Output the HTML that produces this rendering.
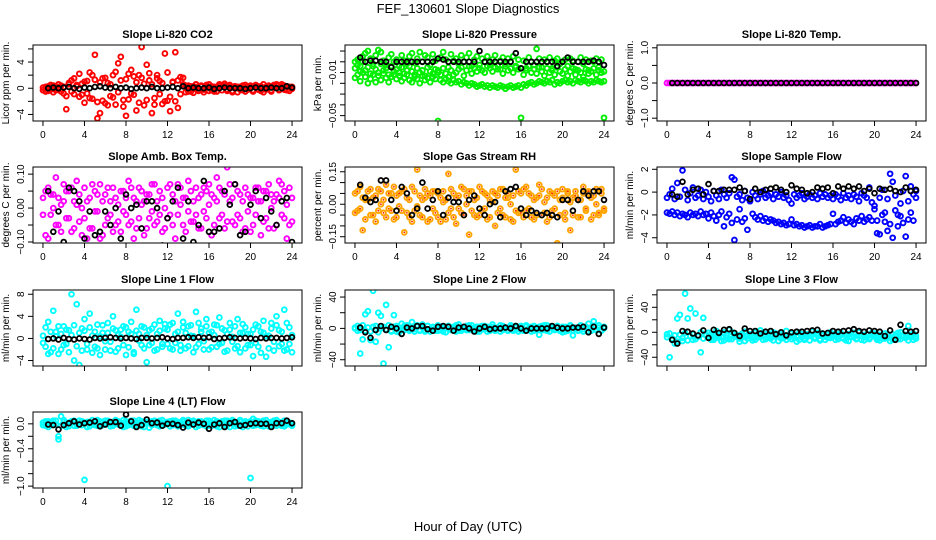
<!DOCTYPE html>
<html><head><meta charset="utf-8">
<style>
html,body{margin:0;padding:0;background:#fff;}
svg{display:block;font-family:"Liberation Sans",Arial,sans-serif;}
</style></head>
<body>
<svg id="chart" width="936" height="540" viewBox="0 0 936 540">
<text x="468" y="13" text-anchor="middle" font-size="13">FEF_130601  Slope Diagnostics</text>
<text x="468" y="531" text-anchor="middle" font-size="13">Hour of Day (UTC)</text>
</svg>
<script>
// ---- data arrays (colored series sampled every 0.25 h from 0; black series every 0.5 h from 0.5) ----
const xTicks = [0,4,8,12,16,20,24];

const co2A = [-0.3,0.2,-0.4,0.5,-0.6,0.3,-0.2,0.4,-0.8,-3.2,0.6,-0.5,1.5,0.3,2.2,-1.0,
-2.2,1.1,-1.5,2.0,5.1,-4.6,-3.8,1.5,-2.3,0.8,-1.2,2.0,-2.5,3.8,4.8,-1.8,
-4.2,2.2,-0.8,1.8,-3.4,2.0,6.3,-2.6,3.6,1.2,-3.8,-1.5,2.0,1.1,-2.4,5.3,
-1.9,-3.5,1.0,5.5,-3.0,1.7,0.6,-0.6,0.4,-0.5,0.3,0.2,-0.4,0.3,-0.2,0.5,
0.6,-0.3,0.2,-0.5,0.4,0.3,0.7,-0.4,0.2,-0.6,0.3,0.2,-0.2,0.4,-0.5,0.3,
0.2,-0.3,0.5,-0.2,0.3,-0.6,0.2,0.4,-0.3,0.5,0.6,-0.2,0.3,0.4,-0.3,0.2,-0.1];
const co2B = [0.1,-0.5,0.3,-0.2,0.4,-0.3,0.6,-0.5,0.2,-1.2,0.8,1.2,-0.9,0.5,-1.3,0.7,
1.0,-0.8,2.4,-1.6,1.3,-2.1,0.9,-1.9,1.6,-2.6,0.6,-1.4,2.5,-0.6,1.2,-2.8,
1.4,-1.7,2.8,-1.0,0.9,-2.2,1.6,0.7,-1.8,2.3,0.6,-2.5,1.5,-0.9,0.8,-2.0,
2.4,-1.3,0.9,-2.0,1.2,-0.9,1.6,0.4,-0.5,0.3,-0.7,0.6,-0.3,0.4,-0.6,0.2,
-0.4,0.3,-0.5,0.2,0.6,-0.3,0.4,-0.2,0.5,-0.4,0.3,-0.6,0.2,-0.3,0.5,-0.2,
0.4,-0.5,0.2,0.3,-0.4,0.6,-0.2,0.3,-0.5,0.2,0.4,-0.3,0.6,-0.2,0.3,-0.4,0.2];
const co2K = [0,0.1,0,0.1,0.2,0,-0.1,0.1,0,0.2,0.3,0.1,0,0.2,0,0.1,-0.1,0,0.1,0,0.2,0,0,0.1,0.2,0,0.3,0,0.1,0,0,0.1,-0.1,0,0.1,0,0,0,-0.1,0,0.1,0,0,0.1,0,0,0.3,0.1];

const presA = [0.000,0.002,-0.004,0.005,0.008,0.010,0.003,-0.002,0.006,0.011,0.009,0.001,-0.003,0.004,0.007,0.000,
0.002,-0.004,0.006,0.001,-0.002,0.005,0.008,-0.001,0.003,0.009,0.000,0.006,0.004,-0.003,0.007,0.001,
-0.008,0.004,0.009,0.002,-0.005,0.007,0.001,0.003,-0.002,0.006,0.000,0.004,0.008,-0.004,0.002,0.005,
-0.006,0.003,0.000,0.005,-0.003,0.002,0.006,-0.007,0.001,0.004,-0.002,0.003,0.000,0.005,-0.004,0.002,
-0.052,0.001,-0.006,0.004,0.000,-0.003,0.012,0.003,-0.005,0.002,0.000,0.004,-0.006,0.001,0.003,-0.002,
0.000,0.002,-0.004,0.003,0.001,-0.007,0.000,0.004,-0.002,0.002,-0.008,0.001,0.000,0.003,-0.005,0.002,-0.052];
const presB = [-0.015,-0.012,-0.018,-0.010,-0.014,-0.020,-0.016,-0.012,-0.019,-0.013,-0.017,-0.011,-0.015,-0.019,-0.014,-0.012,
-0.016,-0.013,-0.018,-0.015,-0.012,-0.017,-0.019,-0.014,-0.016,-0.020,-0.013,-0.017,-0.015,-0.019,-0.014,-0.016,
-0.055,-0.017,-0.019,-0.016,-0.018,-0.020,-0.017,-0.019,-0.018,-0.021,-0.019,-0.020,-0.022,-0.020,-0.021,-0.023,
-0.022,-0.021,-0.023,-0.022,-0.024,-0.022,-0.023,-0.024,-0.022,-0.023,-0.025,-0.023,-0.022,-0.024,-0.023,-0.022,
-0.024,-0.021,-0.022,-0.020,-0.019,-0.021,-0.020,-0.018,-0.019,-0.020,-0.018,-0.019,-0.017,-0.021,-0.019,-0.020,
-0.018,-0.017,-0.019,-0.018,-0.020,-0.017,-0.018,-0.019,-0.017,-0.018,-0.020,-0.018,-0.019,-0.017,-0.018,-0.019,-0.018];
const presC = [-0.006,-0.003,-0.009,0.000,-0.008,-0.005,-0.011,-0.004,-0.007,-0.010,-0.002,-0.008,-0.006,-0.012,-0.004,-0.009,
-0.007,-0.010,-0.005,-0.011,-0.008,-0.004,-0.009,-0.012,-0.006,-0.010,-0.008,-0.013,-0.005,-0.009,-0.011,-0.007,
-0.010,-0.012,-0.006,-0.011,-0.014,-0.008,-0.012,-0.010,-0.007,-0.005,-0.013,-0.008,-0.004,-0.011,-0.006,-0.009,
-0.003,-0.008,-0.010,-0.004,-0.006,-0.009,-0.005,-0.003,-0.007,-0.011,-0.004,-0.008,-0.006,-0.010,-0.005,-0.007,
-0.006,-0.012,-0.008,-0.004,-0.010,-0.007,-0.011,-0.005,-0.009,-0.013,-0.006,-0.010,-0.008,-0.012,-0.005,-0.009,
-0.011,-0.007,-0.013,-0.009,-0.006,-0.012,-0.008,-0.010,-0.014,-0.007,-0.011,-0.009,-0.006,-0.012,-0.008,-0.010,-0.009];
const presK = [0.004,0.000,0.001,0.001,0.000,0.000,-0.005,0.000,0.000,0.000,0.000,0.000,0.000,0.000,0.000,0.003,0.002,0.000,0.000,0.000,0.000,0.000,0.000,0.010,0.000,0.000,0.000,0.000,0.000,0.000,0.008,-0.006,0.000,0.000,0.000,0.000,0.000,0.000,-0.004,0.000,0.004,0.000,0.000,0.000,0.000,0.001,0.000,-0.003];

const tempA = [0,0,0,0,0,0,0,0,0,0,0,0,0,0,0,0,0,0,0,0,0,0,0,0,0,0,0,0,0,0,0,0,0,0,0,0,0,0,0,0,0,0,0,0,0,0,0,0,0,0,0,0,0,0,0,0,0,0,0,0,0,0,0,0,0,0,0,0,0,0,0,0,0,0,0,0,0,0,0,0,0,0,0,0,0,0,0,0,0,0,0,0,0,0,0,0,0];
const tempK = [0,0,0,0,0,0,0,0,0,0,0,0,0,0,0,0,0,0,0,0,0,0,0,0,0,0,0,0,0,0,0,0,0,0,0,0,0,0,0,0,0,0,0,0,0,0,0,0];

const ambA = [0.03,-0.08,0.06,-0.02,0.04,0.09,-0.05,0.01,0.07,-0.03,0.05,-0.07,0.02,0.08,-0.04,0.00,
0.06,-0.09,0.03,-0.06,0.05,-0.01,0.07,-0.08,0.04,-0.03,0.02,0.06,-0.05,0.01,-0.07,0.05,
-0.02,0.08,-0.04,0.03,-0.06,0.06,0.01,-0.08,0.04,-0.03,0.07,-0.05,0.02,0.05,-0.07,0.00,
0.06,-0.02,0.04,-0.09,0.07,0.01,-0.05,0.03,0.08,-0.04,0.02,0.06,-0.06,0.04,-0.01,0.05,
0.07,-0.08,0.03,0.09,-0.03,0.05,-0.06,0.12,0.02,-0.04,0.07,-0.02,0.04,-0.07,0.06,-0.01,
0.03,-0.05,0.06,0.02,-0.08,0.05,-0.03,0.07,0.00,-0.06,0.04,0.08,-0.02,0.05,-0.09,0.06,-0.04];
const ambB = [-0.02,0.05,-0.09,0.04,0.00,-0.05,0.03,-0.07,0.02,0.05,-0.03,0.06,-0.06,0.01,0.04,-0.08,
-0.03,0.02,-0.06,0.07,-0.01,0.04,-0.09,0.02,-0.05,0.06,-0.02,-0.07,0.03,-0.04,0.05,-0.01,
0.03,-0.05,0.06,-0.09,0.02,-0.03,0.05,0.02,-0.06,0.04,-0.01,0.07,-0.04,-0.02,0.03,-0.06,
-0.03,0.07,-0.05,0.02,-0.02,0.06,0.03,-0.07,-0.01,0.05,-0.04,-0.02,0.03,-0.06,0.06,-0.03,
0.01,0.04,-0.05,0.02,0.06,-0.02,0.04,-0.04,0.07,0.03,-0.05,0.05,-0.03,0.02,-0.06,0.04,
-0.07,0.03,-0.02,0.06,0.02,-0.04,0.05,-0.06,0.04,0.02,-0.05,0.03,0.07,-0.03,0.01,-0.05,0.03];
const ambK = [0.05,-0.07,-0.01,-0.1,0.06,0.05,0.02,-0.09,-0.01,-0.08,-0.07,-0.01,-0.05,0.00,-0.09,0.04,0.00,0.01,-0.06,0.02,0.02,0.00,-0.11,-0.03,0.02,0.06,-0.09,0.02,-0.1,-0.05,0.08,-0.07,-0.07,-0.06,0.05,0.01,0.07,-0.08,-0.07,0.01,0.05,-0.03,0.03,-0.01,-0.05,0.02,0.03,-0.1];

const rhA = [0.05,-0.03,0.08,-0.12,0.02,0.06,-0.05,0.03,-0.08,0.07,0.00,-0.04,0.09,-0.02,0.05,-0.07,
0.04,-0.01,0.06,-0.13,0.03,-0.06,0.08,-0.03,0.16,-0.05,0.02,0.07,-0.08,0.04,-0.02,0.06,
-0.06,0.03,0.01,-0.07,0.14,-0.02,0.05,-0.09,0.04,-0.04,0.07,0.00,-0.14,0.06,-0.05,0.03,
0.08,-0.03,0.05,-0.07,0.02,0.06,-0.10,0.04,-0.02,0.07,-0.06,0.03,0.00,-0.08,0.16,-0.04,
0.05,-0.06,0.08,-0.02,0.04,-0.07,0.03,0.09,-0.05,0.01,-0.08,0.06,-0.03,0.04,-0.18,0.02,
0.07,-0.04,0.05,-0.12,0.03,0.06,-0.06,0.02,0.08,-0.03,0.05,-0.07,0.04,0.00,-0.05,0.07,-0.03];
const rhB = [-0.04,0.06,-0.02,0.03,-0.07,0.02,0.07,-0.05,0.04,-0.03,0.06,0.02,-0.06,0.05,-0.03,0.08,
-0.06,0.05,-0.03,0.07,-0.04,0.02,-0.08,0.06,-0.01,0.04,-0.06,0.03,0.05,-0.07,0.06,-0.04,
0.05,-0.08,0.06,0.02,-0.04,0.07,-0.06,0.03,-0.02,0.08,-0.05,0.04,0.06,-0.03,0.02,-0.06,
-0.05,0.06,-0.02,0.04,-0.06,0.01,0.05,-0.04,0.07,-0.05,0.03,0.05,-0.07,0.04,-0.03,0.06,
-0.04,0.07,-0.03,0.05,-0.06,0.02,-0.05,0.04,0.07,-0.04,0.03,-0.06,0.05,-0.02,0.06,-0.05,
0.03,-0.07,0.06,0.01,-0.05,0.04,0.02,-0.06,0.05,-0.02,0.06,0.03,-0.05,0.07,-0.04,0.05,-0.02];
const rhK = [0.09,0.03,0.01,0.02,0.11,0.11,0.02,-0.03,0.08,0.05,-0.05,-0.02,0.10,-0.02,0.02,0.06,-0.05,0.03,0.01,0.01,-0.05,0.02,0.04,-0.02,-0.05,0.00,0.01,-0.06,0.06,0.07,0.08,-0.02,-0.05,-0.03,-0.04,-0.05,-0.04,-0.05,-0.06,0.02,0.02,-0.03,0.02,0.06,0.04,0.06,0.06,0.02];

const flowA = [-0.5,-0.2,0.3,-0.6,0.8,-0.4,1.9,0.2,-0.7,-0.1,0.4,-0.5,-0.3,0.2,-0.6,0.0,
-0.4,-0.8,0.1,-0.3,-0.6,0.2,-0.2,-0.5,-0.1,1.3,1.1,-0.4,-0.2,-0.7,0.1,-0.5,
-0.8,0.0,-0.3,-0.6,-0.2,0.1,-0.5,-0.3,-0.1,-0.6,-0.2,-0.4,0.0,-0.5,-0.3,-0.7,
-1.0,-0.2,-0.5,-0.3,-0.1,-0.6,-0.4,-0.2,-0.5,-0.3,-0.6,-0.1,-0.4,-0.2,-0.5,-0.3,
-0.6,-0.2,-0.4,-0.7,-0.1,-0.5,-0.3,-0.6,-0.2,-0.4,-0.8,-0.1,-0.3,-0.5,0.4,-0.9,
-1.5,-3.6,-0.5,0.2,-1.8,-0.6,1.6,0.9,-0.3,-2.0,-1.0,0.1,1.4,-0.8,0.5,-0.2,0.1];
const flowB = [-1.8,-1.9,-1.7,-2.0,-1.8,-2.1,-1.9,-2.0,-2.2,-1.8,-2.0,-1.9,-2.1,-1.7,-2.0,-1.9,
-2.3,-1.8,-2.1,-2.5,-2.0,-1.7,-3.0,-2.2,-1.9,-2.7,-4.2,-2.4,-1.5,-2.6,-2.3,-3.3,
-0.7,-1.9,-2.2,-2.4,-2.1,-2.5,-2.3,-2.6,-2.4,-2.5,-2.7,-2.6,-2.8,-2.7,-2.9,-2.8,
-2.4,-2.9,-2.8,-3.0,-2.9,-3.1,-3.0,-2.9,-3.1,-3.0,-3.0,-2.8,-3.1,-3.0,-2.9,-2.8,
-1.9,-2.8,-2.6,-2.5,-2.2,-2.7,-2.4,-2.6,-2.8,-2.3,-2.5,-2.1,-2.6,-2.4,-2.2,-2.5,
-1.2,-2.5,-3.7,-2.0,-2.6,-3.4,-2.8,-4.0,-1.6,-3.0,-2.1,-2.7,-3.9,-2.4,-1.8,-2.5,-0.5];
const flowK = [-0.2,-0.4,0.9,-0.2,0.2,0.3,-0.2,0.7,0.1,0.1,0.2,0.2,0.2,0.4,0.1,-0.6,0.3,0.0,0.2,0.3,0.4,0.2,0.0,0.6,0.3,0.2,-0.1,0.0,0.4,0.3,0.4,-0.1,0.5,0.3,0.5,0.3,0.5,0.1,0.3,-0.1,0.3,0.2,0.3,0.1,0.0,0.4,0.1,0.2];

const line1A = [0.5,-1.5,3.0,-2.5,5.0,1.2,-2.8,0.8,2.2,-1.0,1.5,8.0,-4.0,6.2,-4.8,1.8,
3.5,-2.0,4.5,0.5,-1.5,2.5,-3.0,1.0,-0.5,2.8,-2.2,4.0,1.5,-1.8,0.3,2.2,
-3.0,1.2,3.0,-2.5,5.2,0.8,-1.2,2.0,-4.3,1.5,-0.8,2.5,-2.0,3.2,-1.5,1.8,
-1.0,2.5,-2.0,0.8,4.5,-1.2,3.0,-1.8,2.2,0.5,-2.5,4.8,-1.0,1.8,-0.5,3.5,
-2.0,1.2,2.5,-1.5,3.8,-0.8,1.5,-2.2,2.8,0.3,-1.8,3.5,-2.5,1.0,2.0,-1.2,
0.8,-3.2,2.5,-1.5,1.2,3.2,-3.3,0.5,2.8,-2.2,4.0,1.5,-1.0,5.2,-2.0,2.0,-2.5];
const line1B = [-0.8,2.0,-2.8,1.2,-1.8,0.4,2.2,-2.0,-1.2,1.6,-2.5,0.6,2.4,-1.4,1.0,-2.2,
1.4,-1.0,2.0,-2.6,1.2,-1.8,0.4,2.4,-2.0,1.0,-0.6,1.8,-2.4,0.6,1.6,-1.2,
2.0,-1.6,0.8,-2.8,1.4,-0.4,2.2,-1.8,0.6,-1.2,1.8,-2.2,0.8,1.4,-1.0,2.6,
1.6,-1.8,2.8,-0.8,1.2,-2.2,2.0,1.0,-1.4,2.4,0.4,-1.6,2.8,1.2,-2.0,2.2,
1.0,-1.6,0.6,2.4,-1.0,1.8,-2.4,0.8,1.6,-0.6,2.2,-1.4,1.0,2.6,-1.8,0.8,
-1.2,1.6,-0.8,2.2,-2.6,1.0,0.4,-1.8,1.8,-0.6,2.4,-1.4,1.2,-2.2,2.8,-1.0,0.6];
const line1K = [-0.1,0,-0.2,0.1,-0.1,-0.2,0,-0.1,-0.2,0.1,0,0.1,0.2,0.1,0,0.1,0,-0.1,0.1,0.1,0,0.1,0.2,0,-0.1,0.1,0.1,0.2,0.1,0.2,0.1,0.2,-0.1,0,0.1,0.2,0.1,0,0.1,0,-0.1,0.1,0,0.1,0.1,0,0.1,0.2];

const line2A = [1,-3,-32,-14,18,22,-15,48,-17,20,16,-45,30,-24,-4,17,
3,-5,6,-2,4,-1,8,-4,2,-3,5,-2,3,-4,1,-3,
4,-2,1,-5,3,-1,2,-4,5,-3,1,-2,4,0,-3,2,
-4,3,-1,2,-3,5,-2,1,-4,3,0,-2,4,-3,1,-1,
3,-2,4,-1,2,-3,1,-8,3,-2,4,-4,2,-1,3,-3,
-5,2,-3,4,-9,1,-2,3,-4,2,6,-3,9,-1,4,-2,0];
const line2B = [0,3,-2,4,-3,1,-4,2,3,-5,0,2,-1,4,-3,2,
-4,1,-2,3,0,-3,2,-1,4,-2,1,-4,3,-1,2,0,
-3,2,-4,1,3,-2,0,4,-3,1,-1,3,-2,4,0,-4,
2,-1,3,-4,1,2,-3,0,4,-2,1,-3,2,-1,3,-4,
1,-3,2,0,-4,3,-1,2,-2,4,-3,1,0,-2,3,-1,
2,-4,1,3,-2,0,-3,4,-1,2,-4,1,3,-2,1,-3,2];
const line2K = [1,-5,-12,-2,3,-2,2,0,-7,1,0,3,3,-1,-3,2,3,2,-3,1,2,0,-4,0,2,-1,0,0,1,0,3,0,-3,0,0,0,0,3,1,0,0,1,1,2,-5,2,-7,1];

const line3A = [-3,-40,-10,-18,22,28,-14,62,22,38,-12,30,-60,-32,23,-5,
-8,-3,-12,2,-6,-14,0,-9,4,-11,-2,-7,-15,-4,1,-10,
-6,-13,-1,-8,3,-12,-5,-2,-10,0,-7,-14,-3,-9,2,-6,
-11,-4,-15,-1,-8,-12,-3,-6,1,-10,-5,-13,-2,-7,-9,0,
-4,-12,-7,-1,-10,-5,-14,-2,-8,-11,0,-6,-13,-3,-9,-1,
-7,-12,-4,-10,-2,-8,-14,-3,-6,-11,0,-5,-9,10,-4,-12,-6];
const line3B = [-8,-2,-12,-5,-15,-4,-9,-1,-13,-6,-3,-11,-7,0,-10,-4,
-1,-12,-6,-9,-3,-8,-13,-5,-11,0,-7,-4,-10,-2,-14,-6,
-3,-9,-12,-4,-7,-1,-11,-8,-5,-13,-2,-6,-10,-4,-12,-8,
-2,-9,-6,-12,-3,-10,-7,-13,-4,-8,-1,-11,-5,-12,-3,-9,
-7,-2,-11,-5,-9,-13,-3,-7,-1,-10,-6,-12,-4,-8,-11,-5,
-2,-9,-13,-6,-10,-3,-8,-12,-5,-1,-11,-7,-4,-13,-8,-2,-10];
const line3K = [-12,-18,2,1,-2,-5,3,-9,4,-1,4,5,-1,-6,6,2,2,-2,1,2,-3,0,-5,0,1,1,2,3,4,-2,-1,2,1,2,3,5,2,1,3,2,1,-6,3,-12,12,2,1,2];

const line4A = [0.02,-0.03,0.04,-0.02,0.05,-0.01,-0.25,0.12,0.03,-0.05,0.02,0.04,-0.03,0.01,0.05,-0.02,
-0.90,0.03,-0.04,0.06,0.01,-0.03,0.04,-0.02,0.05,0.00,-0.04,0.03,0.06,-0.01,0.02,-0.05,
0.04,-0.02,0.05,-0.03,0.01,0.06,-0.04,0.02,0.03,-0.06,0.04,0.00,-0.02,0.05,-0.03,0.02,
-1.00,0.04,-0.02,0.05,-0.04,0.01,0.03,-0.03,0.06,-0.01,0.02,-0.05,0.04,0.00,-0.02,0.05,
-0.03,0.02,0.06,-0.04,0.01,0.04,-0.02,0.05,-0.05,0.03,0.00,-0.03,0.06,-0.01,0.02,-0.04,
-0.87,0.08,-0.02,0.04,-0.03,0.05,0.01,-0.04,0.03,-0.02,0.06,0.00,-0.03,0.05,-0.01,0.02,-0.03];
const line4B = [-0.02,0.04,-0.05,0.03,-0.01,0.05,-0.20,-0.03,0.06,0.01,-0.04,0.02,0.05,-0.03,0.00,0.04,
0.02,-0.05,0.03,0.00,-0.02,0.06,-0.04,0.03,-0.01,0.05,0.02,-0.03,0.00,0.04,-0.02,0.06,
-0.04,0.03,0.00,0.05,-0.03,0.02,0.04,-0.05,0.01,0.03,-0.02,0.05,0.02,-0.04,0.06,-0.01,
0.03,-0.04,0.05,0.00,0.03,-0.02,0.06,0.01,-0.04,0.03,0.05,0.02,-0.03,0.04,0.01,-0.04,
0.05,-0.03,0.00,0.04,-0.05,0.02,0.05,-0.02,0.03,0.06,-0.04,0.01,0.03,-0.05,0.04,0.02,
0.04,-0.03,0.05,-0.01,0.03,-0.04,0.06,0.02,-0.02,0.05,-0.03,0.03,0.00,-0.04,0.05,0.02,0.00];
const line4K = [-0.01,-0.02,-0.09,-0.02,0.01,0.04,-0.01,0.01,0.02,0.04,-0.04,-0.01,0.03,0.03,-0.03,0.15,0.04,-0.05,-0.02,0.07,0.01,0.02,-0.03,0.00,0.00,-0.02,-0.06,0.02,-0.01,0.02,0.00,-0.08,-0.01,0.01,-0.05,0.01,0.03,-0.03,-0.02,0.00,0.01,0.00,0.00,-0.05,0.01,0.01,0.05,0.01];

// ---- panel layout (not data) ----
const NS = 'http://www.w3.org/2000/svg';
const svg = document.getElementById('chart');
const colX = [33, 345, 657], colW = 269;
const rowY = [45, 167, 290, 412], rowH = 76;

const panels = [
 {name:'co2', title:'Slope Li-820 CO2', ylab:'Licor ppm per min.', c:0, r:0, ymin:-5, ymax:6.6, ticks:[-4,-2,0,2,4,6], labels:[-4,0,4], fmt:v=>String(v).replace('-','\u2212'), series:[[co2A,'#ff0000'],[co2B,'#ff0000']], black:co2K, xl:true},
 {name:'pressure', title:'Slope Li-820 Pressure', ylab:'kPa per min.', c:1, r:0, ymin:-0.055, ymax:0.0156, ticks:[-0.05,-0.04,-0.03,-0.02,-0.01,0,0.01], labels:[-0.05,-0.01], fmt:v=>v.toFixed(2).replace('-','\u2212'), series:[[presC,'#00ee00'],[presB,'#00ee00'],[presA,'#00ee00']], black:presK, xl:true},
 {name:'temp', title:'Slope Li-820 Temp.', ylab:'degrees C per min.', c:2, r:0, ymin:-1.08, ymax:1.08, ticks:[-1,-0.5,0,0.5,1], labels:[-1,0,1], fmt:v=>v.toFixed(1).replace('-','\u2212'), series:[[tempA,'#ff00ff']], black:tempK, xl:true},
 {name:'amb-box-temp', title:'Slope Amb. Box Temp.', ylab:'degrees C per min.', c:0, r:1, ymin:-0.103, ymax:0.121, ticks:[-0.1,-0.05,0,0.05,0.1], labels:[-0.1,0,0.1], fmt:v=>v.toFixed(2).replace('-','\u2212'), series:[[ambA,'#ff00ff'],[ambB,'#ff00ff']], black:ambK, xl:true},
 {name:'gas-stream-rh', title:'Slope Gas Stream RH', ylab:'percent per min.', c:1, r:1, ymin:-0.179, ymax:0.172, ticks:[-0.15,-0.1,-0.05,0,0.05,0.1,0.15], labels:[-0.15,0,0.15], fmt:v=>v.toFixed(2).replace('-','\u2212'), series:[[rhA,'#ffa500'],[rhB,'#ffa500']], black:rhK, xl:true, dot:'#ff2000'},
 {name:'sample-flow', title:'Slope Sample Flow', ylab:'ml/min per min.', c:2, r:1, ymin:-4.46, ymax:2.2, ticks:[-4,-2,0,2], labels:[-4,-2,0,2], fmt:v=>String(v).replace('-','\u2212'), series:[[flowB,'#0000ff'],[flowA,'#0000ff']], black:flowK, xl:true},
 {name:'line1-flow', title:'Slope Line 1 Flow', ylab:'ml/min per min.', c:0, r:2, ymin:-4.99, ymax:8.77, ticks:[-4,0,4,8], labels:[-4,0,4,8], fmt:v=>String(v).replace('-','\u2212'), series:[[line1B,'#00ffff'],[line1A,'#00ffff']], black:line1K, xl:false},
 {name:'line2-flow', title:'Slope Line 2 Flow', ylab:'ml/min per min.', c:1, r:2, ymin:-48, ymax:49, ticks:[-40,-20,0,20,40], labels:[-40,0,40], fmt:v=>String(v).replace('-','\u2212'), series:[[line2B,'#00ffff'],[line2A,'#00ffff']], black:line2K, xl:false},
 {name:'line3-flow', title:'Slope Line 3 Flow', ylab:'ml/min per min.', c:2, r:2, ymin:-54, ymax:67.7, ticks:[-40,-20,0,20,40,60], labels:[-40,0,40], fmt:v=>String(v).replace('-','\u2212'), series:[[line3B,'#00ffff'],[line3A,'#00ffff']], black:line3K, xl:false},
 {name:'line4-flow', title:'Slope Line 4 (LT) Flow', ylab:'ml/min per min.', c:0, r:3, ymin:-1.03, ymax:0.19, ticks:[-1,-0.8,-0.6,-0.4,-0.2,0], labels:[-1,-0.4,0], fmt:v=>v.toFixed(1).replace('-','\u2212'), series:[[line4B,'#00ffff'],[line4A,'#00ffff']], black:line4K, xl:true}
];

function mk(tag, attrs, parent){ const e=document.createElementNS(NS,tag); for(const k in attrs) e.setAttribute(k,attrs[k]); (parent||svg).appendChild(e); return e; }

panels.forEach(p=>{
  const L = colX[p.c], T = rowY[p.r], W = colW, H = rowH;
  const g = mk('g',{});
  
  
  const xs = v => L + (v + 0.96) / 25.92 * W;
  const ys = v => T + (p.ymax - v) / (p.ymax - p.ymin) * H;

  const t = mk('text',{x:L+W/2, y:T-7, 'text-anchor':'middle','font-size':'11','font-weight':'bold'}, g);
  t.textContent = p.title;
  
  

  const cid = 'clip-' + p.name;
  const cp = mk('clipPath',{id:cid}, g);
  mk('rect',{x:L, y:T, width:W, height:H}, cp);
  const pts = mk('g',{'clip-path':'url(#'+cid+')'}, g);

  p.series.forEach(([arr,col])=>{
    arr.forEach((v,i)=>{
      const c = mk('circle',{cx:xs(i*0.25).toFixed(1), cy:ys(v).toFixed(1), r:2.4, fill:'none', stroke:col, 'stroke-width':1.9}, pts);
      
      
      if(p.dot){ mk('circle',{cx:xs(i*0.25).toFixed(1), cy:ys(v).toFixed(1), r:0.9, fill:p.dot}, pts); }
    });
  });
  p.black.forEach((v,i)=>{
    const c = mk('circle',{cx:xs(0.5+i*0.5).toFixed(1), cy:ys(v).toFixed(1), r:2.4, fill:'none', stroke:'#000', 'stroke-width':1.8}, pts);
    
    
  });

  const box = mk('rect',{x:L, y:T, width:W, height:H, fill:'none', stroke:'#000','stroke-width':1}, g);
  
  

  const xa = mk('g',{}, g);
  
  
  mk('line',{x1:xs(xTicks[0]), x2:xs(xTicks[xTicks.length-1]), y1:T+H, y2:T+H, stroke:'#000'}, xa);
  xTicks.forEach(v=>{
    mk('line',{x1:xs(v), x2:xs(v), y1:T+H, y2:T+H+5, stroke:'#000'}, xa);
    if(p.xl){
      const tl = mk('text',{x:xs(v), y:T+H+17, 'text-anchor':'middle','font-size':'10'}, xa);
      tl.textContent = v;
      
      
    }
  });

  const ya = mk('g',{}, g);
  
  
  const tmin = Math.min(...p.ticks), tmax = Math.max(...p.ticks);
  mk('line',{x1:L, x2:L, y1:ys(tmin), y2:ys(tmax), stroke:'#000'}, ya);
  p.ticks.forEach(v=>{
    mk('line',{x1:L-5, x2:L, y1:ys(v), y2:ys(v), stroke:'#000'}, ya);
  });
  p.labels.forEach(v=>{
    const yy = ys(v), xx = L-9;
    const tl = mk('text',{x:xx, y:yy, 'text-anchor':'middle','font-size':'10', transform:'rotate(-90 '+xx+' '+yy+')'}, ya);
    tl.textContent = p.fmt(v);
    
    
  });
  const yx = L-24, yy = T+H/2;
  const yt = mk('text',{x:yx, y:yy, 'text-anchor':'middle','font-size':'10', transform:'rotate(-90 '+yx+' '+yy+')'}, ya);
  yt.textContent = p.ylab;
  
  
});
</script>
</body></html>
